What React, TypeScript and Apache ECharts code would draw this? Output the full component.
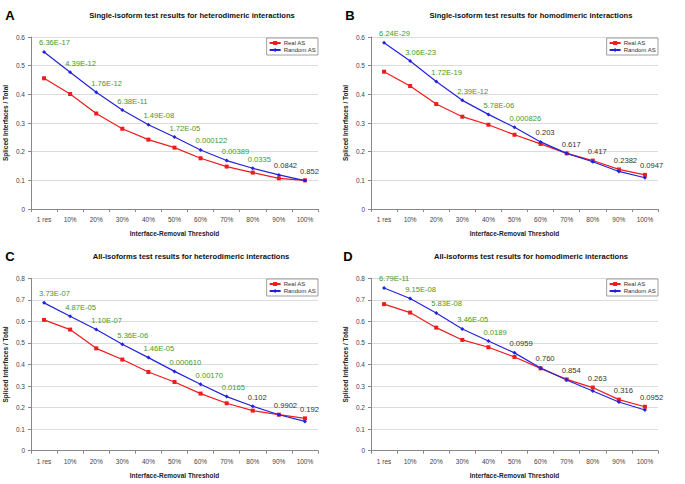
import React, { useEffect, useRef } from "react";
import * as echarts from "echarts";

const categories = ["1 res", "10%", "20%", "30%", "40%", "50%", "60%", "70%", "80%", "90%", "100%"];

const realA = [0.456, 0.401, 0.333, 0.28, 0.242, 0.214, 0.177, 0.148, 0.127, 0.107, 0.1];
const randomA = [0.548, 0.477, 0.407, 0.345, 0.294, 0.251, 0.206, 0.169, 0.142, 0.119, 0.099];
const pvalsA = ["6.36E-17", "4.39E-12", "1.76E-12", "6.38E-11", "1.49E-08", "1.72E-05", "0.000122", "0.00389", "0.0335", "0.0842", "0.852"];

const realB = [0.479, 0.429, 0.366, 0.322, 0.294, 0.259, 0.227, 0.194, 0.169, 0.138, 0.119];
const randomB = [0.58, 0.516, 0.445, 0.379, 0.33, 0.285, 0.234, 0.194, 0.165, 0.131, 0.109];
const pvalsB = ["6.24E-29", "3.06E-23", "1.72E-19", "2.39E-12", "5.78E-06", "0.000826", "0.203", "0.617", "0.417", "0.2382", "0.0947"];

const realC = [0.607, 0.562, 0.475, 0.423, 0.365, 0.319, 0.265, 0.22, 0.186, 0.167, 0.15];
const randomC = [0.686, 0.624, 0.562, 0.494, 0.432, 0.368, 0.308, 0.251, 0.206, 0.167, 0.136];
const pvalsC = ["3.73E-07", "4.87E-05", "1.10E-07", "5.36E-06", "1.46E-05", "0.000610", "0.00170", "0.0165", "0.102", "0.9902", "0.192"];

const realD = [0.68, 0.641, 0.571, 0.514, 0.48, 0.435, 0.382, 0.331, 0.293, 0.237, 0.204];
const randomD = [0.755, 0.706, 0.639, 0.565, 0.509, 0.454, 0.384, 0.328, 0.277, 0.226, 0.189];
const pvalsD = ["6.79E-11", "9.15E-08", "5.83E-08", "3.46E-05", "0.0189", "0.0959", "0.760", "0.854", "0.263", "0.316", "0.0952"];

const titles = [
  "Single-isoform test results for heterodimeric interactions",
  "Single-isoform test results for homodimeric interactions",
  "All-isoforms test results for heterodimeric interactions",
  "All-isoforms test results for homodimeric interactions",
];
const letters = ["A", "B", "C", "D"];
const yMaxes = [0.6, 0.6, 0.8, 0.8];
const seriesNames = ["Real AS", "Random AS"];

const FONT = "'Liberation Sans', Arial, sans-serif";
const RED = "#ee1c1c";
const BLUE = "#2323dd";
const GREEN = "#3b9b2b";
const DARK = "#333333";

export default function App() {
  const ref = useRef<HTMLDivElement>(null);

  useEffect(() => {
    if (!ref.current) return;
    const chart = echarts.init(ref.current, null, { renderer: "svg" });

    const data = [
      { real: realA, random: randomA, p: pvalsA },
      { real: realB, random: randomB, p: pvalsB },
      { real: realC, random: randomC, p: pvalsC },
      { real: realD, random: randomD, p: pvalsD },
    ];
    const layout = [
      { left: 31, top: 37, height: 172, titleX: 192, titleY: 15.5, letterX: 10, letterY: 15, legendRight: 367, legendTop: 38 },
      { left: 371, top: 37, height: 172, titleX: 531, titleY: 15.5, letterX: 350, letterY: 15, legendRight: 27, legendTop: 38 },
      { left: 31, top: 278.3, height: 172.4, titleX: 191, titleY: 256.5, letterX: 10, letterY: 256, legendRight: 367, legendTop: 279 },
      { left: 371, top: 278.3, height: 172.4, titleX: 531, titleY: 256.5, letterX: 348, letterY: 256, legendRight: 27, legendTop: 279 },
    ];

    const grid: any[] = [];
    const xAxis: any[] = [];
    const yAxis: any[] = [];
    const series: any[] = [];
    const legend: any[] = [];
    const graphic: any[] = [];

    data.forEach((d, i) => {
      const L = layout[i];
      grid.push({ left: L.left, top: L.top, width: 287, height: L.height, containLabel: false });
      xAxis.push({
        type: "category",
        gridIndex: i,
        data: categories,
        boundaryGap: true,
        name: "Interface-Removal Threshold",
        nameLocation: "middle",
        nameGap: 21,
        nameTextStyle: { fontFamily: FONT, fontSize: 6.5, fontWeight: "bold", color: "#222" },
        axisLine: { lineStyle: { color: "#888", width: 1 } },
        axisTick: { show: true, length: 3, lineStyle: { color: "#888" } },
        axisLabel: { fontFamily: FONT, fontSize: 6.5, color: "#444", margin: 7 },
        splitLine: { show: false },
      });
      yAxis.push({
        type: "value",
        gridIndex: i,
        min: 0,
        max: yMaxes[i],
        interval: 0.1,
        name: "Spliced Interfaces / Total",
        nameLocation: "middle",
        nameGap: 22,
        nameRotate: 90,
        nameTextStyle: { fontFamily: FONT, fontSize: 6.5, fontWeight: "bold", color: "#222" },
        axisLine: { show: true, lineStyle: { color: "#888", width: 1 } },
        axisTick: { show: true, length: 3, lineStyle: { color: "#888" } },
        axisLabel: { fontFamily: FONT, fontSize: 6.5, color: "#444", margin: 6 },
        splitLine: { show: true, lineStyle: { color: "#dcdcdc", width: 1 } },
      });

      const mkData = (vals: number[], other: number[], isRandom: boolean) =>
        vals.map((v, k) => {
          const top = isRandom ? v >= other[k] : v > other[k];
          const pv = d.p[k];
          return {
            value: v,
            label: {
              show: top,
              formatter: pv,
              color: Number(pv) < 0.05 ? GREEN : DARK,
            },
          };
        });

      const labelBase = {
        position: "top",
        align: "left",
        distance: 3,
        offset: [-5, 0],
        fontFamily: FONT,
        fontSize: 7.6,
      };

      series.push({
        name: seriesNames[0],
        type: "line",
        xAxisIndex: i,
        yAxisIndex: i,
        data: mkData(d.real, d.random, false),
        symbol: "rect",
        symbolSize: 4,
        lineStyle: { color: RED, width: 1.2 },
        itemStyle: { color: RED },
        label: labelBase,
        z: 2,
      });
      series.push({
        name: seriesNames[1],
        type: "line",
        xAxisIndex: i,
        yAxisIndex: i,
        data: mkData(d.random, d.real, true),
        symbol: "diamond",
        symbolSize: 4,
        lineStyle: { color: BLUE, width: 1.2 },
        itemStyle: { color: BLUE },
        label: labelBase,
        z: 3,
      });

      legend.push({
        data: seriesNames,
        orient: "vertical",
        right: L.legendRight,
        top: L.legendTop,
        padding: [2, 2, 2, 2],
        itemGap: 1,
        itemWidth: 11,
        itemHeight: 5,
        borderColor: "#888",
        borderWidth: 0.8,
        borderRadius: 0,
        backgroundColor: "#fff",
        textStyle: { fontFamily: FONT, fontSize: 6, color: "#333", padding: [0, 0, 0, -2] },
        selectedMode: false,
      });

      graphic.push({
        type: "text",
        x: L.titleX,
        y: L.titleY,
        style: {
          text: titles[i],
          align: "center",
          verticalAlign: "middle",
          font: `bold 7.6px ${FONT}`,
          fill: "#111",
        },
      });
      graphic.push({
        type: "text",
        x: L.letterX,
        y: L.letterY,
        style: {
          text: letters[i],
          align: "center",
          verticalAlign: "middle",
          font: `bold 13px ${FONT}`,
          fill: "#000",
        },
      });
    });

    chart.setOption({
      animation: false,
      backgroundColor: "#ffffff",
      grid,
      xAxis,
      yAxis,
      series,
      legend,
      graphic,
    });

    return () => chart.dispose();
  }, []);

  return (
    <div
      ref={ref}
      style={{ position: "absolute", left: 0, top: 0, width: 685, height: 484, background: "#fff" }}
    />
  );
}
